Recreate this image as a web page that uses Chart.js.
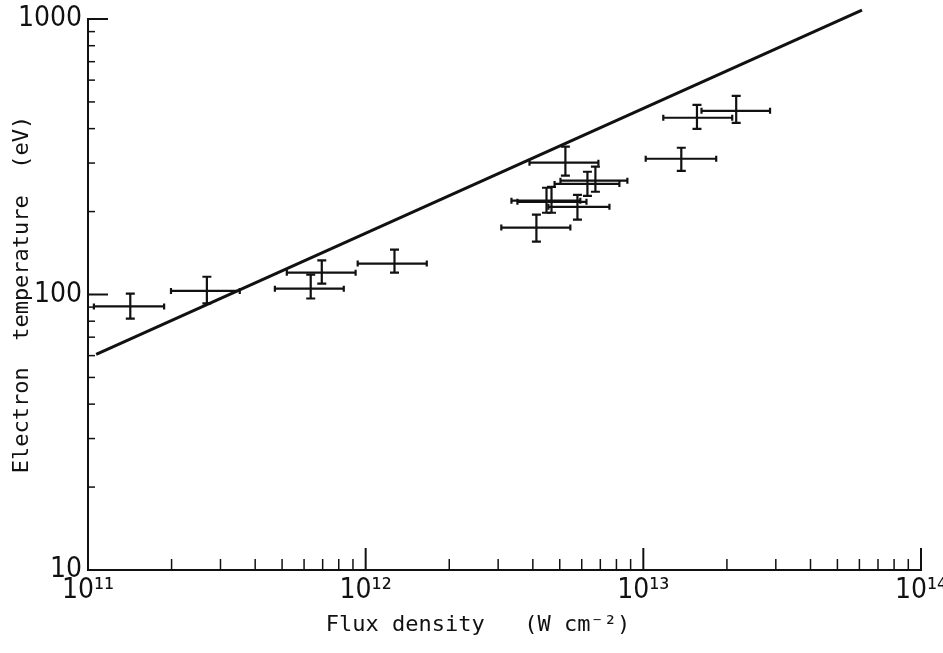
<!DOCTYPE html>
<html>
<head>
<meta charset="utf-8">
<title>Electron temperature vs flux density</title>
<script src="https://cdn.jsdelivr.net/npm/chart.js@4/dist/chart.umd.min.js"></script>
<style>
  html, body { margin: 0; padding: 0; background: #fff; }
  canvas { display: block; }
</style>
</head>
<body>
<canvas id="temp-chart" width="943" height="653"></canvas>
<script>
// measured points: flux density (W cm^-2) with horizontal error range
const flux = [1.42e11, 2.68e11, 6.34e11, 6.95e11, 1.27e12, 5.24e12, 6.72e12, 6.29e12, 4.48e12, 4.67e12, 5.79e12, 4.12e12, 1.37e13, 1.56e13, 2.16e13];
const fluxLow = [1.05e11, 1.99e11, 4.71e11, 5.2e11, 9.36e11, 3.89e12, 5.03e12, 4.79e12, 3.35e12, 3.52e12, 4.55e12, 3.08e12, 1.02e13, 1.18e13, 1.62e13];
const fluxHigh = [1.88e11, 3.52e11, 8.34e11, 9.2e11, 1.66e12, 6.89e12, 8.76e12, 8.2e12, 5.93e12, 6.24e12, 7.55e12, 5.46e12, 1.83e13, 2.09e13, 2.86e13];
// electron temperature (eV) with vertical error range
const temp = [90.5, 103, 105, 120, 129.5, 301, 259, 252, 219, 217, 208, 175, 311, 438, 464];
const tempLow = [81.8, 92.8, 96.7, 109.6, 120, 270, 236, 228, 198, 198, 187, 155.6, 281, 399, 420];
const tempHigh = [100.8, 116, 118, 133, 145.5, 344, 291, 279, 244, 246, 230, 195, 341, 488, 526];
// straight-line fit on log-log axes
const fitFlux = [1.07e11, 6.13e13];
const fitTemp = [60.6, 1078];
// axis decades and their labels
const xDecades = [1e11, 1e12, 1e13, 1e14];
const xTickLabels = ["10¹¹", "10¹²", "10¹³", "10¹⁴"];
const yDecades = [10, 100, 1000];
const yTickLabels = ["10", "100", "1000"];

const INK = "#111";
const labelFont = { family: "'Liberation Sans Narrow', 'DejaVu Sans Condensed', sans-serif", size: 28 };
const titleFont = { family: "'DejaVu Sans Mono', monospace", size: 22 };

// 1..9 x 10^n between the first and last decade
const logTicks = (decades) => {
  const ticks = [];
  decades.forEach((d, i) => {
    if (i === decades.length - 1) {
      ticks.push({ value: d, major: true });
      return;
    }
    for (let m = 1; m < 10; m++) ticks.push({ value: m * d, major: m === 1 });
  });
  return ticks;
};

const decadeLabel = (decades, labels) => (value) => {
  const i = decades.findIndex((d) => Math.abs(d - value) / d < 1e-6);
  return i === -1 ? "" : labels[i];
};

// tick marks point into the plot, not outward
const inwardTicks = {
  id: "inwardTicks",
  afterDraw(chart) {
    const { ctx, chartArea, scales } = chart;
    ctx.save();
    ctx.strokeStyle = INK;
    scales.x.ticks.forEach((t) => {
      const px = scales.x.getPixelForValue(t.value);
      ctx.lineWidth = t.major ? 2 : 1.5;
      ctx.beginPath();
      ctx.moveTo(px, chartArea.bottom);
      ctx.lineTo(px, chartArea.bottom - (t.major ? 22 : 11));
      ctx.stroke();
    });
    scales.y.ticks.forEach((t) => {
      const py = scales.y.getPixelForValue(t.value);
      ctx.lineWidth = t.major ? 2 : 1.5;
      ctx.beginPath();
      ctx.moveTo(chartArea.left, py);
      ctx.lineTo(chartArea.left + (t.major ? 20 : 7), py);
      ctx.stroke();
    });
    ctx.restore();
  },
};

// crosses with end caps for each measurement
const errorBars = {
  id: "errorBars",
  afterDatasetsDraw(chart) {
    const { ctx, scales } = chart;
    const xs = scales.x;
    const ys = scales.y;
    ctx.save();
    ctx.strokeStyle = INK;
    ctx.lineWidth = 2.2;
    for (let i = 0; i < flux.length; i++) {
      const cx = xs.getPixelForValue(flux[i]);
      const cy = ys.getPixelForValue(temp[i]);
      const x0 = xs.getPixelForValue(fluxLow[i]);
      const x1 = xs.getPixelForValue(fluxHigh[i]);
      const y0 = ys.getPixelForValue(tempLow[i]);
      const y1 = ys.getPixelForValue(tempHigh[i]);
      ctx.beginPath();
      ctx.moveTo(x0, cy);
      ctx.lineTo(x1, cy);
      ctx.moveTo(x0, cy - 3);
      ctx.lineTo(x0, cy + 3);
      ctx.moveTo(x1, cy - 3);
      ctx.lineTo(x1, cy + 3);
      ctx.moveTo(cx, y0);
      ctx.lineTo(cx, y1);
      ctx.moveTo(cx - 4.5, y0);
      ctx.lineTo(cx + 4.5, y0);
      ctx.moveTo(cx - 4.5, y1);
      ctx.lineTo(cx + 4.5, y1);
      ctx.stroke();
    }
    ctx.restore();
  },
};

const canvas = document.querySelector("#temp-chart");
new Chart(canvas, {
  type: "scatter",
  data: {
    datasets: [
      {
        label: "Measured",
        data: flux.map((f, i) => ({ x: f, y: temp[i] })),
        pointRadius: 0,
        showLine: false,
      },
      {
        label: "Fit",
        data: fitFlux.map((f, i) => ({ x: f, y: fitTemp[i] })),
        showLine: true,
        borderColor: INK,
        borderWidth: 3,
        pointRadius: 0,
        clip: false,
      },
    ],
  },
  options: {
    responsive: false,
    animation: false,
    layout: { padding: { top: 19, right: 22, left: 0, bottom: 0 } },
    plugins: {
      legend: { display: false },
      tooltip: { enabled: false },
    },
    scales: {
      x: {
        type: "logarithmic",
        min: 1e11,
        max: 1e14,
        afterBuildTicks: (scale) => {
          scale.ticks = logTicks(xDecades);
        },
        afterFit: (scale) => {
          scale.height = 83;
          // let the end labels hang past the plot edges
          scale.paddingLeft = 0;
          scale.paddingRight = 0;
        },
        grid: { display: false, drawTicks: false },
        border: { display: true, color: INK, width: 2 },
        ticks: {
          autoSkip: false,
          maxRotation: 0,
          padding: 4,
          color: INK,
          font: labelFont,
          callback: decadeLabel(xDecades, xTickLabels),
        },
        title: {
          display: true,
          text: "Flux density   (W cm⁻²)    ",
          color: INK,
          font: titleFont,
          padding: { top: 0, bottom: 15 },
        },
      },
      y: {
        type: "logarithmic",
        min: 10,
        max: 1000,
        afterBuildTicks: (scale) => {
          scale.ticks = logTicks(yDecades);
        },
        afterFit: (scale) => {
          scale.width = 88;
          scale.paddingTop = 0;
          scale.paddingBottom = 0;
        },
        grid: { display: false, drawTicks: false },
        border: { display: true, color: INK, width: 2 },
        ticks: {
          autoSkip: false,
          padding: 6,
          color: INK,
          font: labelFont,
          callback: decadeLabel(yDecades, yTickLabels),
        },
        title: {
          display: true,
          text: "Electron  temperature  (eV)",
          color: INK,
          font: titleFont,
          padding: { top: 9, bottom: 0 },
        },
      },
    },
  },
  plugins: [inwardTicks, errorBars],
});
</script>
</body>
</html>
